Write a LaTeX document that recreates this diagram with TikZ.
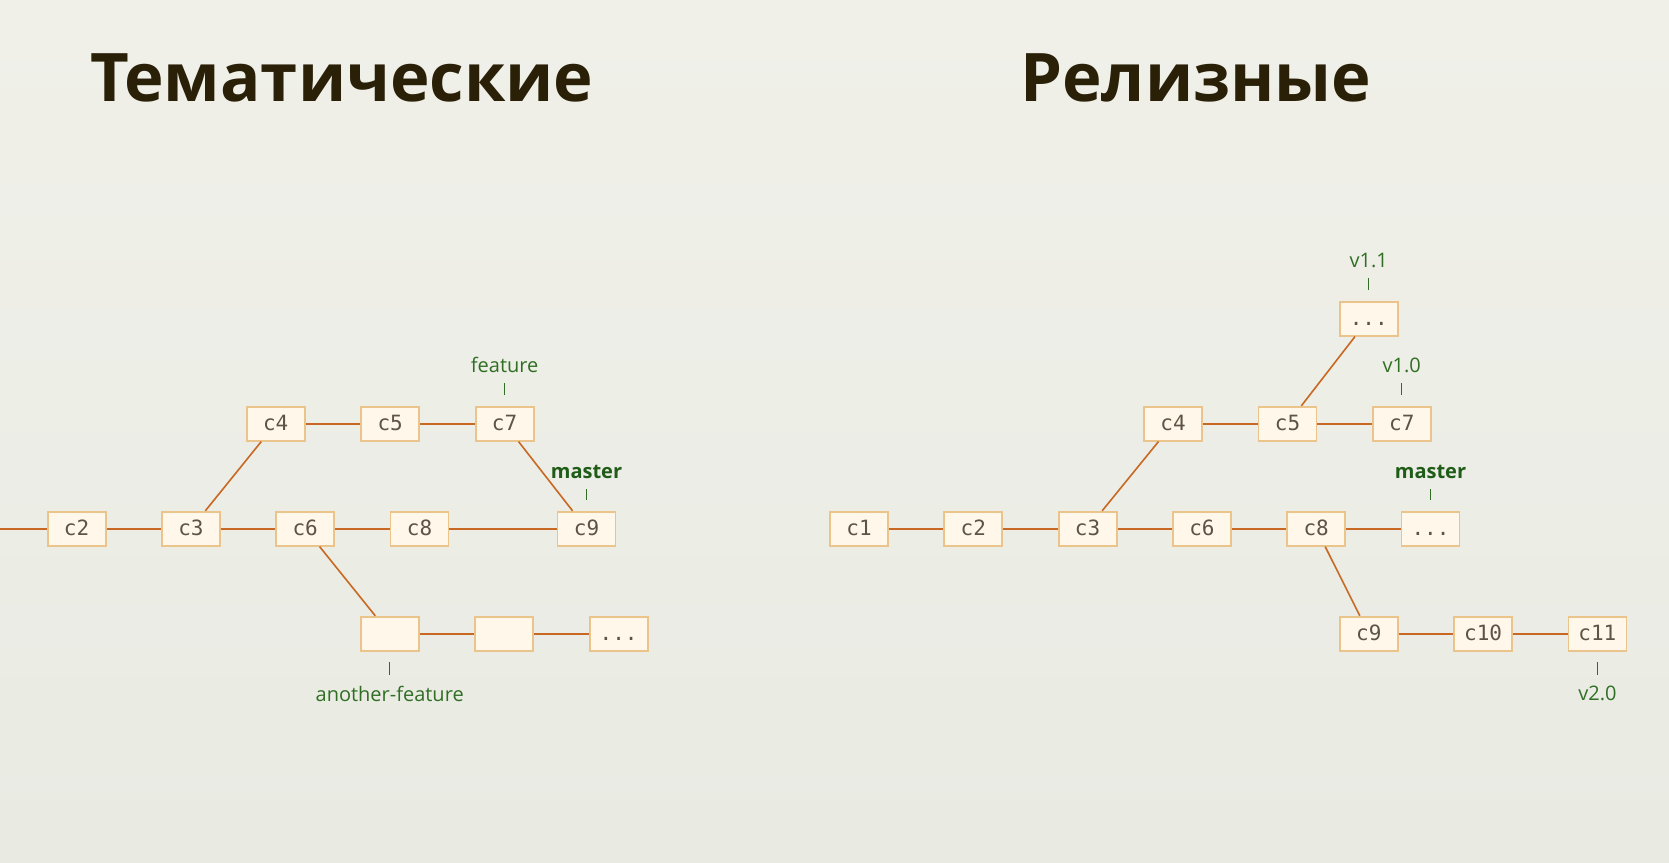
\documentclass[tikz,border=0pt]{standalone}
\usepackage{fontspec}
\setmainfont{Open Sans}
\newfontfamily\commitfont{DejaVu Sans Mono}
\usetikzlibrary{positioning}

\definecolor{bgtop}{RGB}{240,240,233}
\definecolor{bgbottom}{RGB}{233,235,227}
\definecolor{boxfill}{RGB}{255,247,233}
\definecolor{boxedge}{RGB}{235,196,140}
\definecolor{linkcol}{RGB}{200,104,34}
\definecolor{committext}{RGB}{94,84,70}
\definecolor{taggreen}{RGB}{48,110,36}
\definecolor{mastergreen}{RGB}{30,92,23}
\definecolor{headcol}{RGB}{42,32,8}

\tikzset{
  commit/.style={draw=boxedge, fill=boxfill, line width=1.8pt, minimum width=58pt, minimum height=34pt, inner sep=0pt, text height=14pt, text depth=0pt, text=committext, font=\commitfont\fontsize{21}{23}\selectfont},
  link/.style={draw=linkcol, line width=2pt},
  diag/.style={draw=linkcol, line width=1.6pt},
  taglbl/.style={text=taggreen, inner sep=0pt, font=\fontsize{20}{22}\selectfont},
  masterlbl/.style={taglbl, text=mastergreen, font=\bfseries\fontsize{20}{22}\selectfont},
  tick/.style={draw=taggreen, line width=1.2pt, shorten <=10.5pt, shorten >=10.5pt},
  heading/.style={text=headcol, inner sep=0pt, font=\bfseries\fontsize{67}{72}\selectfont}
}

\begin{document}
\begin{tikzpicture}[x=1pt, y=-1pt]
    % Background
    \fill[top color=bgtop, bottom color=bgbottom] (0,0) rectangle (1669,862);
    \useasboundingbox (0,0) rectangle (1669,862);

    % Headings
    \node[heading, anchor=base west] (htopic) at (90,101) {Тематические};
    \node[heading, anchor=base west] (hrelease) at (1020,101) {Релизные};

    % Topic branches: main line
    \coordinate (lstart) at (0,528.7);
    \node[commit] (lc2) at (76.6,528.7) {c2};
    \node[commit] (lc3) at (190.9,528.7) {c3};
    \node[commit] (lc6) at (305.2,528.7) {c6};
    \node[commit] (lc8) at (419.5,528.7) {c8};
    \node[commit] (lc9) at (586.5,528.7) {c9};

    % Topic branches: feature
    \node[commit] (lc4) at (275.7,423.7) {c4};
    \node[commit] (lc5) at (390.2,423.7) {c5};
    \node[commit] (lc7) at (504.6,423.7) {c7};

    % Topic branches: another-feature
    \node[commit] (la1) at (389.7,633.7) {};
    \node[commit] (la2) at (504.2,633.7) {};
    \node[commit] (la3) at (618.6,633.7) {...};

    % Connect nodes
    \draw[link] (lstart) -- (lc2) -- (lc3) -- (lc6) -- (lc8) -- (lc9);
    \draw[link] (lc4) -- (lc5) -- (lc7);
    \draw[link] (la1) -- (la2) -- (la3);
    \draw[diag] (lc3) -- (lc4);
    \draw[diag] (lc7) -- (lc9);
    \draw[diag] (lc6) -- (la1);

    % Branch labels
    \node[taglbl, above=33pt of lc7] (lfeature) {feature};
    \node[masterlbl, above=32pt of lc9] (lmaster) {master};
    \node[taglbl, below=34pt of la1] (lanother) {another-feature};
    \draw[tick] (lfeature) -- (lc7);
    \draw[tick] (lmaster) -- (lc9);
    \draw[tick] (la1) -- (lanother);

    % Release branches: main line
    \node[commit] (rc1) at (859,528.7) {c1};
    \node[commit] (rc2) at (973.3,528.7) {c2};
    \node[commit] (rc3) at (1087.6,528.7) {c3};
    \node[commit] (rc6) at (1201.9,528.7) {c6};
    \node[commit] (rc8) at (1316.2,528.7) {c8};
    \node[commit] (rdots) at (1430.5,528.7) {...};

    % Release branches: v1.x
    \node[commit] (rc4) at (1173,423.7) {c4};
    \node[commit] (rc5) at (1287.5,423.7) {c5};
    \node[commit] (rc7) at (1401.8,423.7) {c7};
    \node[commit] (rtop) at (1368.8,318.7) {...};

    % Release branches: v2.0
    \node[commit] (rc9) at (1368.8,633.7) {c9};
    \node[commit] (rc10) at (1483.1,633.7) {c10};
    \node[commit] (rc11) at (1597.4,633.7) {c11};

    % Connect nodes
    \draw[link] (rc1) -- (rc2) -- (rc3) -- (rc6) -- (rc8) -- (rdots);
    \draw[link] (rc4) -- (rc5) -- (rc7);
    \draw[link] (rc9) -- (rc10) -- (rc11);
    \draw[diag] (rc3) -- (rc4);
    \draw[diag] (rc5) -- (rtop);
    \draw[diag] (rc8) -- (rc9);

    % Release labels
    \node[taglbl, above=33pt of rtop] (rv11) {v1.1};
    \node[taglbl, above=33pt of rc7] (rv10) {v1.0};
    \node[masterlbl, above=32pt of rdots] (rmaster) {master};
    \node[taglbl, below=34pt of rc11] (rv20) {v2.0};
    \draw[tick] (rv11) -- (rtop);
    \draw[tick] (rv10) -- (rc7);
    \draw[tick] (rmaster) -- (rdots);
    \draw[tick] (rc11) -- (rv20);
\end{tikzpicture}
\end{document}
